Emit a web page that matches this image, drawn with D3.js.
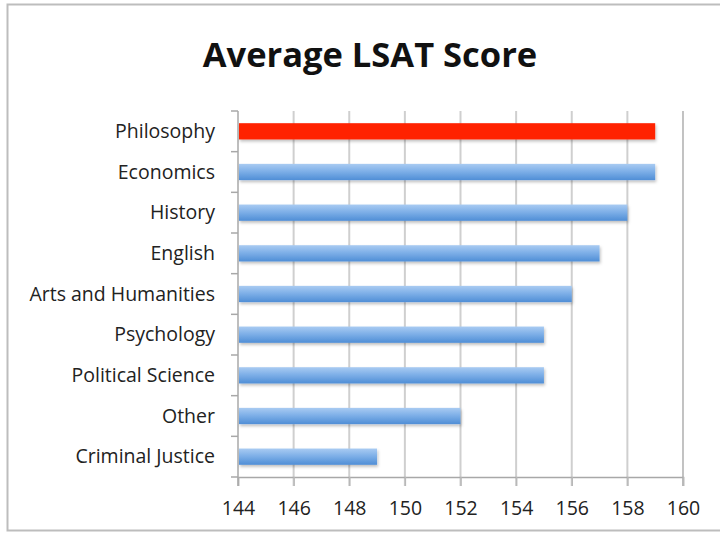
<!DOCTYPE html>
<html lang="en">
<head>
    <meta charset="UTF-8">
    <title>Average LSAT Score</title>
    <style>
        body { margin: 0; background: #fff; }
        svg text { font-family: "Open Sans", "Lato", sans-serif; fill: #222; }
    </style>
</head>
<body>
    <svg id="chart" width="720" height="533"></svg>
    <script src="https://d3js.org/d3.v7.min.js"></script>
    <script>
        // chart data
        const majors = ["Philosophy", "Economics", "History", "English", "Arts and Humanities",
            "Psychology", "Political Science", "Other", "Criminal Justice"];
        const scores = [159, 159, 158, 157, 156, 155, 155, 152, 149];
        const tickValues = [144, 146, 148, 150, 152, 154, 156, 158, 160];

        const svg = d3.select("#chart");
        const margin = { top: 111, left: 238, right: 37, bottom: 56 };
        const width = 720 - margin.left - margin.right;   // 445
        const height = 533 - margin.top - margin.bottom;  // 366

        // outer frame
        svg.append("rect")
            .attr("x", 7.5).attr("y", 4.5)
            .attr("width", 740).attr("height", 526)
            .attr("fill", "none")
            .attr("stroke", "#bdbdbd")
            .attr("stroke-width", 2);

        // gradients for the bars
        const defs = svg.append("defs");
        const blue = defs.append("linearGradient").attr("id", "blueGrad")
            .attr("x1", 0).attr("y1", 0).attr("x2", 0).attr("y2", 1);
        blue.append("stop").attr("offset", "0%").attr("stop-color", "#a9cbf2");
        blue.append("stop").attr("offset", "45%").attr("stop-color", "#7fb0e8");
        blue.append("stop").attr("offset", "100%").attr("stop-color", "#4f8ed6");
        const shadow = defs.append("filter").attr("id", "shadow")
            .attr("x", "-5%").attr("y", "-30%").attr("width", "110%").attr("height", "180%");
        shadow.append("feDropShadow").attr("dx", 1).attr("dy", 2)
            .attr("stdDeviation", 1.5).attr("flood-color", "#000").attr("flood-opacity", 0.25);

        const x = d3.scaleLinear().domain([144, 160]).range([0, width]);
        const y = d3.scaleBand().domain(majors).range([0, height]).paddingInner(0.6).paddingOuter(0.3);
        const yEdge = d3.scaleLinear().domain([0, majors.length]).range([0, height]);

        const g = svg.append("g").attr("transform", `translate(${margin.left},${margin.top})`);

        // title
        svg.append("text")
            .attr("x", 370).attr("y", 67)
            .attr("text-anchor", "middle")
            .style("font-size", "34.5px")
            .style("font-weight", "bold")
            .style("fill", "#111")
            .text("Average LSAT Score");

        // vertical gridlines
        g.selectAll(".grid")
            .data(tickValues.slice(1, -1))
            .enter().append("line")
            .attr("class", "grid")
            .attr("x1", d => x(d)).attr("x2", d => x(d))
            .attr("y1", 0).attr("y2", height + 9)
            .attr("stroke", "#cfcfcf")
            .attr("stroke-width", 2);

        // right border at 160
        g.append("line")
            .attr("x1", x(160)).attr("x2", x(160))
            .attr("y1", 0).attr("y2", height + 9)
            .attr("stroke", "#9a9a9a").attr("stroke-width", 1.2);

        // x axis
        const xAxis = g.append("g")
            .attr("transform", `translate(0,${height})`)
            .call(d3.axisBottom(x).tickValues(tickValues).tickSize(9).tickPadding(15));
        xAxis.select(".domain").attr("stroke", "#a8a8a8").attr("stroke-width", 1.5);
        xAxis.selectAll(".tick line").attr("stroke", "#b8b8b8").attr("stroke-width", 1.5);
        xAxis.selectAll("text").style("font-size", "19.5px").style("fill", "#222");

        // y axis line and category ticks
        g.append("line")
            .attr("x1", 0).attr("x2", 0).attr("y1", 0).attr("y2", height + 9)
            .attr("stroke", "#a8a8a8").attr("stroke-width", 1.5);
        g.selectAll(".ytick")
            .data(d3.range(majors.length + 1))
            .enter().append("line")
            .attr("class", "ytick")
            .attr("x1", -7).attr("x2", 0)
            .attr("y1", d => yEdge(d)).attr("y2", d => yEdge(d))
            .attr("stroke", "#a8a8a8").attr("stroke-width", 1.5);

        // category labels
        g.selectAll(".ylabel")
            .data(majors)
            .enter().append("text")
            .attr("class", "ylabel")
            .attr("x", -23)
            .attr("y", d => y(d) + y.bandwidth() / 2)
            .attr("dy", "0.35em")
            .attr("text-anchor", "end")
            .style("font-size", "19.5px")
            .text(d => d);

        // bars
        g.selectAll(".bar")
            .data(majors)
            .enter().append("rect")
            .attr("class", "bar")
            .attr("x", 1)
            .attr("y", d => y(d))
            .attr("width", (d, i) => x(scores[i]) - 1)
            .attr("height", y.bandwidth())
            .attr("fill", (d, i) => i === 0 ? "#ff2200" : "url(#blueGrad)")
            .attr("filter", "url(#shadow)");
    </script>
</body>
</html>
